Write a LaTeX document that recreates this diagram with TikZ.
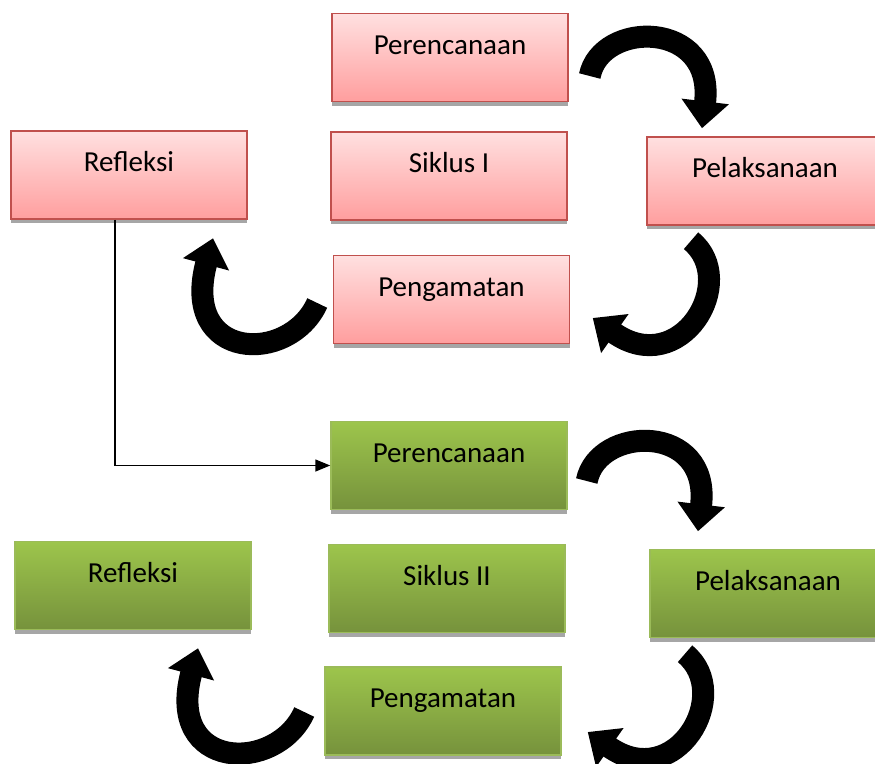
\documentclass[tikz,border=0pt]{standalone}
\usepackage{fontspec}
\setmainfont{Carlito}
\usetikzlibrary{arrows.meta,shadows,calc}

\definecolor{redtop}{RGB}{255,224,224}
\definecolor{redbot}{RGB}{255,158,158}
\definecolor{redline}{RGB}{192,80,77}
\definecolor{greentop}{RGB}{157,197,76}
\definecolor{greenbot}{RGB}{118,146,60}
\definecolor{greenline}{RGB}{155,187,89}

\begin{document}
\begin{tikzpicture}[x=1pt,y=-1pt,
stagebox/.style={rectangle, minimum width=236pt, minimum height=88pt, inner sep=0pt, text height=20pt, text depth=27pt, font=\fontsize{29}{34}\selectfont, drop shadow={shadow xshift=0pt, shadow yshift=-4pt, fill=black!35, opacity=1}},
redbox/.style={stagebox, draw=redline, line width=1.5pt, top color=redtop, bottom color=redbot},
greenbox/.style={stagebox, draw=greenline, line width=1.5pt, top color=greentop, bottom color=greenbot},
turn/.style={line width=22pt, -{Triangle[width=46pt,length=27pt]}},
]
\clip (0,0) rectangle (875,763);
%% Siklus I
\node[redbox] (pren1) at (450,57.5) {Perencanaan};
\node[redbox] (sik1) at (449,176) {Siklus I};
\node[redbox] (pel1) at (765,181) {Pelaksanaan};
\node[redbox] (ref1) at (129,175) {Refleksi};
\node[redbox] (pen1) at (451.5,299.5) {Pengamatan};
%% Siklus II
\node[greenbox] (pren2) at (449,465.5) {Perencanaan};
\node[greenbox] (sik2) at (447,588.5) {Siklus II};
\node[greenbox] (pel2) at (768,593.5) {Pelaksanaan};
\node[greenbox] (ref2) at (133,585.5) {Refleksi};
\node[greenbox] (pen2) at (443,711) {Pengamatan};
%%%
%% Turning arrows
\draw[turn] ($(pren1.east)+(21,18.5)$) .. controls +(11,-56) and +(13,-109) .. ($(pel1.north)+(-63,-8)$);
\draw[turn] ($(pel1.south)+(-74,15)$) .. controls +(49,40) and +(88,62) .. ($(pen1.east)+(22.5,18.5)$);
\draw[turn] ($(pen1.west)+(-15.5,3.5)$) .. controls +(-28,62) and +(-33,123) .. ($(ref1.south)+(84,18.5)$);
\draw[turn] ($(pren2.east)+(19,15.5)$) .. controls +(11,-56) and +(13,-109) .. ($(pel2.north)+(-70,-17.5)$);
\draw[turn] ($(pel2.south)+(-83,15.5)$) .. controls +(49,40) and +(88,62) .. ($(pen2.east)+(26,21)$);
\draw[turn] ($(pen2.west)+(-20,1)$) .. controls +(-28,62) and +(-33,123) .. ($(ref2.south)+(65,18)$);
%% Lines
\draw[line width=1.5pt, -{Triangle[width=12pt,length=15pt]}] ([xshift=-14pt]ref1.south) |- (pren2.west);
\end{tikzpicture}
\end{document}
